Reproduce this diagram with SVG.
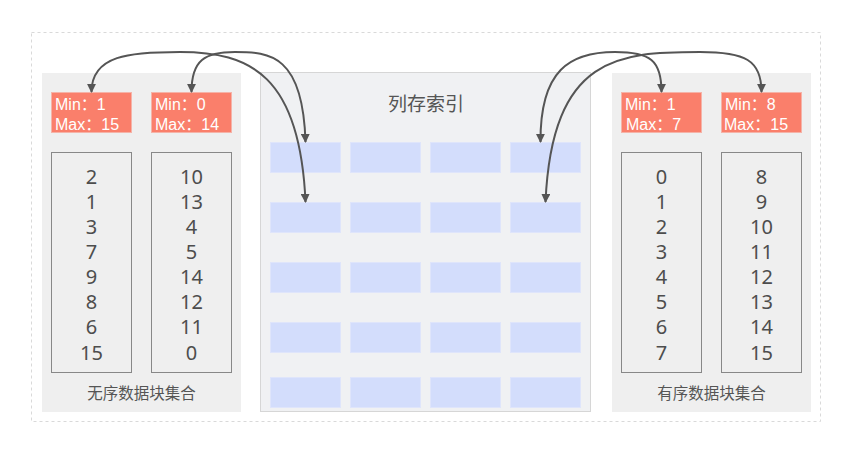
<svg xmlns="http://www.w3.org/2000/svg" width="852" height="459" viewBox="0 0 852 459">
<defs>
<style>
.panel{fill:#efefef;}
.center{fill:#f0f1f3;stroke:#d6d6d6;stroke-width:1;}
.mm{fill:#fa7f6b;stroke:#f5b3a8;stroke-width:1;}
.mmt{fill:#ffffff;font-family:"Liberation Sans","Noto Sans CJK SC",sans-serif;font-size:16px;}
.blk{fill:#efefef;stroke:#888888;stroke-width:1;}
.num{fill:#4d4d4d;font-family:"Noto Sans","Noto Sans CJK SC",sans-serif;font-size:20px;text-anchor:middle;}
.lbl{fill:#555555;font-family:"Noto Sans CJK SC",sans-serif;font-size:15.5px;text-anchor:middle;}
.title{fill:#555555;font-family:"Noto Sans CJK SC",sans-serif;font-size:19px;text-anchor:middle;}
.cell{fill:#d3ddfc;stroke:#dfe5fb;stroke-width:1;}
.edge{fill:none;stroke:#555555;stroke-width:2;marker-start:url(#ah);marker-end:url(#ah);}
</style>
<marker id="ah" viewBox="0 0 10 10" refX="9" refY="5" markerWidth="4.5" markerHeight="4.5" orient="auto-start-reverse" markerUnits="strokeWidth">
<path d="M0,0 L10,5 L0,10 Z" fill="#555555"/>
</marker>
</defs>
<rect x="0" y="0" width="852" height="459" fill="#ffffff"/>
<rect x="31.5" y="32.5" width="789" height="389" fill="none" stroke="#d9d9d9" stroke-width="1" stroke-dasharray="3,3"/>

<g id="unordered-set">
<rect class="panel" x="42" y="73" width="199" height="339"/>
<text class="lbl" x="141.5" y="399">无序数据块集合</text>
</g>
<g id="u-minmax-1">
<rect class="mm" x="51.5" y="92.5" width="80" height="40"/>
<text class="mmt" x="55" y="109.5">Min：1</text>
<text class="mmt" x="55" y="129.5">Max：15</text>
</g>
<g id="u-minmax-2">
<rect class="mm" x="151.5" y="92.5" width="80" height="40"/>
<text class="mmt" x="155" y="109.5">Min：0</text>
<text class="mmt" x="155" y="129.5">Max：14</text>
</g>
<g id="u-block-1">
<rect class="blk" x="51.5" y="152.5" width="80" height="220"/>
<text class="num" x="91.5" y="183.5">2</text>
<text class="num" x="91.5" y="208.6">1</text>
<text class="num" x="91.5" y="233.8">3</text>
<text class="num" x="91.5" y="258.9">7</text>
<text class="num" x="91.5" y="284.1">9</text>
<text class="num" x="91.5" y="309.2">8</text>
<text class="num" x="91.5" y="334.4">6</text>
<text class="num" x="91.5" y="359.5">15</text>
</g>
<g id="u-block-2">
<rect class="blk" x="151.5" y="152.5" width="80" height="220"/>
<text class="num" x="191.5" y="183.5">10</text>
<text class="num" x="191.5" y="208.6">13</text>
<text class="num" x="191.5" y="233.8">4</text>
<text class="num" x="191.5" y="258.9">5</text>
<text class="num" x="191.5" y="284.1">14</text>
<text class="num" x="191.5" y="309.2">12</text>
<text class="num" x="191.5" y="334.4">11</text>
<text class="num" x="191.5" y="359.5">0</text>
</g>

<g id="column-index">
<rect class="center" x="260.5" y="72.5" width="330" height="339"/>
<text class="title" x="426" y="111">列存索引</text>
<rect class="cell" x="270.5" y="142.5" width="70" height="30"/>
<rect class="cell" x="350.5" y="142.5" width="70" height="30"/>
<rect class="cell" x="430.5" y="142.5" width="70" height="30"/>
<rect class="cell" x="510.5" y="142.5" width="70" height="30"/>
<rect class="cell" x="270.5" y="202.5" width="70" height="30"/>
<rect class="cell" x="350.5" y="202.5" width="70" height="30"/>
<rect class="cell" x="430.5" y="202.5" width="70" height="30"/>
<rect class="cell" x="510.5" y="202.5" width="70" height="30"/>
<rect class="cell" x="270.5" y="262.5" width="70" height="30"/>
<rect class="cell" x="350.5" y="262.5" width="70" height="30"/>
<rect class="cell" x="430.5" y="262.5" width="70" height="30"/>
<rect class="cell" x="510.5" y="262.5" width="70" height="30"/>
<rect class="cell" x="270.5" y="322.5" width="70" height="30"/>
<rect class="cell" x="350.5" y="322.5" width="70" height="30"/>
<rect class="cell" x="430.5" y="322.5" width="70" height="30"/>
<rect class="cell" x="510.5" y="322.5" width="70" height="30"/>
<rect class="cell" x="270.5" y="377.5" width="70" height="30"/>
<rect class="cell" x="350.5" y="377.5" width="70" height="30"/>
<rect class="cell" x="430.5" y="377.5" width="70" height="30"/>
<rect class="cell" x="510.5" y="377.5" width="70" height="30"/>
</g>

<g id="ordered-set">
<rect class="panel" x="612" y="73" width="199" height="339"/>
<text class="lbl" x="711.5" y="399">有序数据块集合</text>
</g>
<g id="o-minmax-1">
<rect class="mm" x="621.5" y="92.5" width="80" height="40"/>
<text class="mmt" x="625" y="109.5">Min：1</text>
<text class="mmt" x="626" y="129.5">Max：7</text>
</g>
<g id="o-minmax-2">
<rect class="mm" x="721.5" y="92.5" width="80" height="40"/>
<text class="mmt" x="725" y="109.5">Min：8</text>
<text class="mmt" x="724" y="129.5">Max：15</text>
</g>
<g id="o-block-1">
<rect class="blk" x="621.5" y="152.5" width="80" height="220"/>
<text class="num" x="661.5" y="183.5">0</text>
<text class="num" x="661.5" y="208.6">1</text>
<text class="num" x="661.5" y="233.8">2</text>
<text class="num" x="661.5" y="258.9">3</text>
<text class="num" x="661.5" y="284.1">4</text>
<text class="num" x="661.5" y="309.2">5</text>
<text class="num" x="661.5" y="334.4">6</text>
<text class="num" x="661.5" y="359.5">7</text>
</g>
<g id="o-block-2">
<rect class="blk" x="721.5" y="152.5" width="80" height="220"/>
<text class="num" x="761.5" y="183.5">8</text>
<text class="num" x="761.5" y="208.6">9</text>
<text class="num" x="761.5" y="233.8">10</text>
<text class="num" x="761.5" y="258.9">11</text>
<text class="num" x="761.5" y="284.1">12</text>
<text class="num" x="761.5" y="309.2">13</text>
<text class="num" x="761.5" y="334.4">14</text>
<text class="num" x="761.5" y="359.5">15</text>
</g>

<g id="connectors">
<path class="edge" d="M91.5,92 C91.5,55 130,52 180,52 C250,52 300,75 305.5,202"/>
<path class="edge" d="M191.5,92 C191.5,60 205,52 235,52 C270,52 303,55 305.5,142"/>
<path class="edge" d="M661.5,92 C661.5,60 650,52 615,52 C570,52 540,70 540.5,142"/>
<path class="edge" d="M761.5,92 C761.5,60 745,52 700,52 C620,52 552,55 545.5,202"/>
</g>
</svg>
